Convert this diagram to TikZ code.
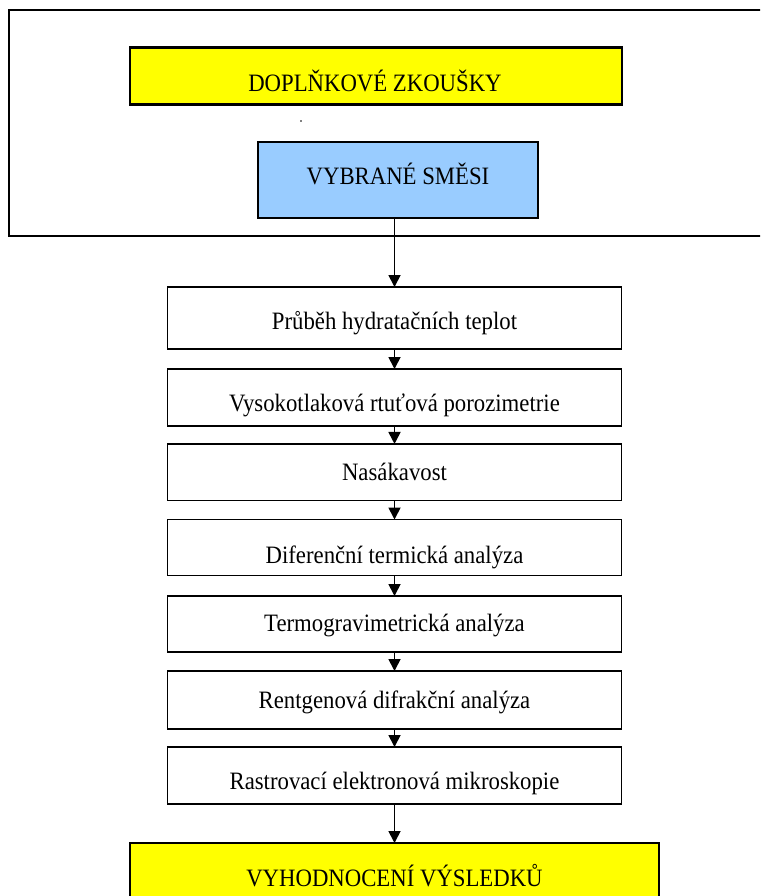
\documentclass[tikz,border=0pt]{standalone}
\usepackage{fontspec}
\setmainfont{Liberation Serif}[FakeStretch=0.91]
\usetikzlibrary{arrows.meta}
\definecolor{boxyellow}{HTML}{FFFF00}
\definecolor{boxblue}{HTML}{99CCFF}
\begin{document}
\begin{tikzpicture}[x=1pt,y=-1pt,
  every node/.style={inner sep=0pt, outer sep=0pt},
  outerbox/.style={draw=black, line width=2.8pt, rectangle},
  ybox/.style={draw=black, fill=boxyellow, line width=2.8pt, rectangle},
  bbox/.style={draw=black, fill=boxblue, line width=1.8pt, rectangle},
  wbox/.style={draw=black, fill=white, line width=1.8pt, rectangle, minimum width=454pt},
  lbl/.style={anchor=base, font=\fontsize{25}{30}\selectfont},
  arr/.style={draw=black, line width=1.8pt, -{Triangle[length=12pt,width=12pt]}}]
\clip (0,0) rectangle (760,896);
\fill[white] (0,0) rectangle (760,896);
% outer frame
\node[outerbox, minimum width=766pt, minimum height=226pt] (outer) at (392,123) {};
% top yellow box
\node[ybox, minimum width=492pt, minimum height=57pt] (dop) at (376,76) {};
\node[lbl] (tdop) at (375,91.7) {DOPLŇKOVÉ ZKOUŠKY};
% stray dot
\fill (301,121) circle (0.9);
% blue box
\node[bbox, minimum width=280pt, minimum height=76pt] (vyb) at (398,180) {};
\node[lbl] (tvyb) at (398,185) {VYBRANÉ SMĚSI};
% column boxes
\node[wbox, minimum height=62pt] (b1) at (394.5,318) {};
\node[lbl] (t1) at (394.5,329.3) {Průběh hydratačních teplot};
\node[wbox, minimum height=57pt] (b2) at (394.5,397.5) {};
\node[lbl] (t2) at (394.5,411.7) {Vysokotlaková rtuťová porozimetrie};
\node[wbox, minimum height=56.5pt] (b3) at (394.5,472.2) {};
\node[lbl] (t3) at (394.5,480.7) {Nasákavost};
\node[wbox, minimum height=56pt] (b4) at (394.5,547.5) {};
\node[lbl] (t4) at (394.5,563.3) {Diferenční termická analýza};
\node[wbox, minimum height=56pt] (b5) at (394.5,624) {};
\node[lbl] (t5) at (394.5,631.7) {Termogravimetrická analýza};
\node[wbox, minimum height=58pt] (b6) at (394.5,700) {};
\node[lbl] (t6) at (394.5,708.3) {Rentgenová difrakční analýza};
\node[wbox, minimum height=57pt] (b7) at (394.5,775.5) {};
\node[lbl] (t7) at (394.5,789.3) {Rastrovací elektronová mikroskopie};
% bottom yellow box
\node[ybox, minimum width=529pt, minimum height=70pt] (vyh) at (394.5,878) {};
\node[lbl] (tvyh) at (394.5,886.7) {VYHODNOCENÍ VÝSLEDKŮ};
% connectors
\draw[arr] (vyb.south -| b1.north) -- (b1.north);
\draw[arr] (b1.south) -- (b2.north);
\draw[arr] (b2.south) -- (b3.north);
\draw[arr] (b3.south) -- (b4.north);
\draw[arr] (b4.south) -- (b5.north);
\draw[arr] (b5.south) -- (b6.north);
\draw[arr] (b6.south) -- (b7.north);
\draw[arr] (b7.south) -- (vyh.north);
\end{tikzpicture}
\end{document}
